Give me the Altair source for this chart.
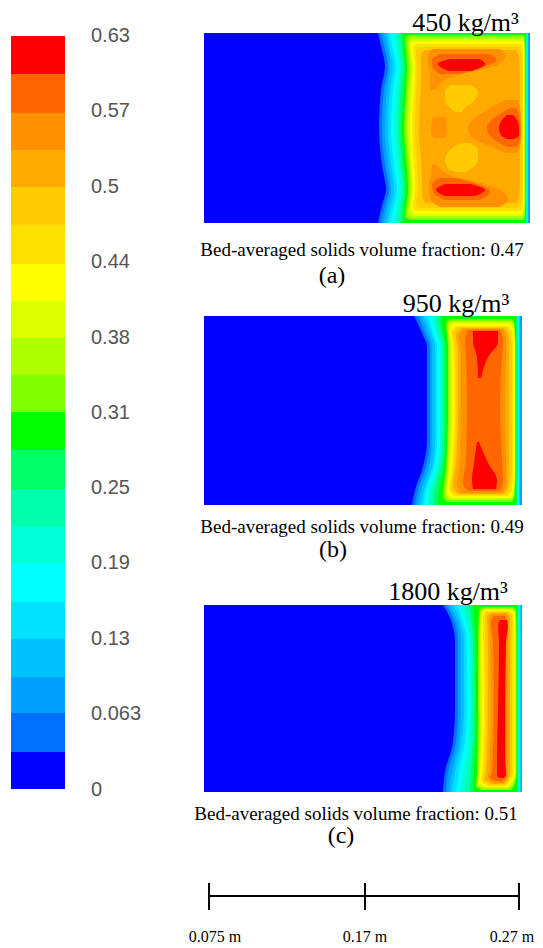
import altair as alt
import pandas as pd

# 20 contour levels of solids volume fraction
LEVEL_COLORS = ["#0000ff", "#0070ff", "#00a0ff", "#00c0ff", "#00e0ff", "#00ffff", "#00ffd5", "#00ffaa", "#00ff66", "#00ff00",
                "#80ff00", "#b0ff00", "#d9ff00", "#ffff00", "#ffe000", "#ffcc00", "#ffaa00", "#ff9000", "#ff6600", "#ff0000"]
# colour bar band edges, bottom (level 0) to top
BAR_EDGES = [789, 752, 713, 677, 639, 602, 563, 526, 489, 450, 412, 375, 338, 301, 264, 225, 187, 150, 113, 74, 36]
BAR_LABELS = ["0.63", "0.57", "0.5", "0.44", "0.38", "0.31", "0.25", "0.19", "0.13", "0.063", "0"]
BAR_LABEL_Y = [36, 111, 187, 262, 338, 413, 488, 563, 639, 714, 790]

# Panel (a)
A_Y = [33, 50, 66, 90, 128, 165, 190, 205, 223]
A = [
    (0, [33, 223], [204, 204], [530, 530]),
    (1, A_Y, [378, 382, 385, 381, 379, 382, 386, 382, 378], [530] * 9),
    (2, A_Y, [381, 385, 388, 384, 382, 385, 389, 385, 381], [530] * 9),
    (3, A_Y, [384, 388, 390, 387, 385, 388, 391, 388, 384], [528.5] * 9),
    (4, A_Y, [387, 390, 393, 390, 388, 391, 394, 391, 387], [528] * 9),
    (5, A_Y, [390, 393, 396, 393, 391, 394, 397, 394, 390], [527.5] * 9),
    (6, A_Y, [394, 396, 399, 396, 394, 397, 400, 397, 394], [527] * 9),
    (7, A_Y, [397, 399, 401, 399, 397, 400, 402, 400, 397], [526.5] * 9),
    (8, A_Y, [400, 402, 403, 401, 399, 402, 404, 402, 400], [526] * 9),
    (9, A_Y, [403, 404, 405, 404, 402, 404, 406, 404, 403], [526] * 9),
    (10, [35, 38, 66, 128, 190, 217, 220], [410, 405, 407, 404, 408, 405, 410], [524, 525, 525.5, 525.5, 525.5, 525, 524]),
    (11, [37, 41, 66, 128, 190, 214, 218], [411, 407, 409, 406, 410, 407, 412], [523.5, 524.5, 525, 525, 525, 524.5, 523]),
    (12, [39, 43, 66, 128, 190, 212, 216], [412, 409, 411, 408, 411, 409, 413], [523, 524, 524.5, 524.5, 524.5, 524, 522.5]),
    (13, [41, 45, 66, 128, 190, 210, 214], [414, 411, 413, 410, 413, 411, 415], [522, 523.5, 524, 524, 524, 523.5, 522]),
    (14, [44, 48, 66, 128, 190, 207, 211], [416, 413, 415, 412, 415, 413, 417], [521, 522.5, 523, 523, 523, 522.5, 521]),
    (15, [47, 52, 66, 128, 190, 203, 208], [418, 416, 417, 415, 418, 416, 420], [519, 521, 522, 522, 522, 521, 519]),
    (16, [50, 56, 80, 128, 180, 197, 203], [425, 421, 421, 419, 422, 422, 426], [515, 519, 520, 520, 520, 519, 515]),
    (15, [85, 92, 100, 108, 112], [450, 445, 445, 450, 455], [470, 478, 475, 465, 462]),
    (15, [143, 150, 160, 168, 172], [460, 450, 445, 448, 455], [470, 478, 478, 472, 465]),
    (17, [49, 56, 66, 72, 80, 90], [432, 428, 428, 430, 430, 431], [500, 505, 495, 470, 445, 436]),
    (17, [165, 175, 183, 190, 200, 207], [432, 431, 429, 429, 431, 440], [437, 450, 480, 500, 508, 500]),
    (17, [117, 130, 138], [433, 431, 433], [445, 447, 445]),
    (17, [100, 108, 118, 128, 138, 146, 153], [505, 490, 475, 468, 473, 490, 505], [518, 520, 521, 521, 521, 520, 516]),
    (18, [54, 60, 68, 74], [440, 432, 433, 440], [490, 497, 480, 460]),
    (18, [178, 185, 192, 200], [438, 432, 433, 445], [455, 480, 490, 480]),
    (18, [108, 115, 128, 138, 147], [510, 498, 487, 492, 508], [516, 519, 520, 520, 517]),
    (19, [59, 64, 71], [450, 438, 448], [480, 485, 472]),
    (19, [184, 190, 196], [445, 436, 445], [470, 485, 475]),
    (19, [115, 120, 128, 135, 139], [507, 502, 499, 501, 507], [513, 517, 519, 519, 514]),
]

# Panel (b)
B_Y = [316, 333, 347, 407, 440, 467, 490, 505]
B = [
    (0, [316, 505], [204, 204], [522, 522]),
    (1, B_Y, [414, 422, 427, 427, 427, 423, 415, 412], [522] * 8),
    (2, B_Y, [418, 425, 430, 430, 430, 426, 418, 415], [522] * 8),
    (3, B_Y, [421, 428, 432, 432, 432, 429, 421, 418], [520] * 8),
    (4, B_Y, [424, 431, 435, 435, 435, 432, 424, 421], [519.5] * 8),
    (5, B_Y, [428, 433, 437, 437, 437, 434, 426, 424], [519] * 8),
    (6, B_Y, [432, 436, 440, 440, 440, 437, 429, 427], [518] * 8),
    (7, B_Y, [435, 438, 442, 442, 442, 439, 432, 430], [517.5] * 8),
    (8, B_Y, [438, 441, 444, 444, 444, 441, 435, 434], [517] * 8),
    (9, B_Y, [441, 443, 446, 446, 446, 444, 439, 438], [516] * 8),
    (10, [319, 323, 347, 407, 467, 497, 502], [450, 446, 448, 448, 446, 443, 448], [512, 514.5, 515.5, 515.5, 515.5, 514.5, 512]),
    (11, [321, 325, 347, 407, 467, 495, 500], [451, 447, 449, 449, 447, 445, 449], [511.5, 514, 515, 515, 515, 514, 511]),
    (12, [322, 327, 347, 407, 467, 494, 499], [452, 448, 450, 450, 448, 446, 450], [511, 513.5, 515, 515, 515, 513.5, 510.5]),
    (13, [324, 329, 347, 407, 467, 492, 498], [454, 449, 451, 452, 450, 447, 451], [510, 513, 514.5, 514.5, 514.5, 513, 510]),
    (14, [326, 331, 347, 407, 467, 490, 496], [456, 451, 453, 454, 452, 449, 454], [508, 512, 513.5, 513.5, 513.5, 512, 508]),
    (15, [327, 333, 350, 407, 465, 488, 495], [458, 453, 455, 456, 454, 451, 457], [506, 510, 512, 512, 512, 510, 506]),
    (16, [328, 335, 352, 407, 463, 486, 494], [461, 456, 458, 458, 456, 453, 459], [504, 508, 509, 509, 509, 508, 504]),
    (17, [329, 337, 354, 407, 461, 484, 493], [464, 459, 461, 461, 460, 457, 462], [502, 506, 506, 505, 506, 506, 502]),
    (18, [330, 340, 357, 407, 460, 483, 491], [468, 465, 466, 467, 466, 463, 468], [500, 503, 502, 500, 502, 503, 499]),
    (19, [331, 342, 357, 378], [473, 473, 477, 478], [498, 498, 488, 481]),
    (19, [442, 463, 480, 489], [477, 474, 472, 473], [479, 488, 497, 496]),
]

# Panel (c)
C_Y = [605, 618, 642, 708, 742, 772, 792]
C = [
    (0, [605, 792], [204, 204], [522, 522]),
    (1, C_Y, [443, 450, 455, 455, 453, 445, 443], [522] * 7),
    (2, C_Y, [446, 453, 458, 458, 456, 448, 446], [522] * 7),
    (3, C_Y, [449, 456, 461, 461, 459, 452, 449], [521] * 7),
    (4, C_Y, [453, 459, 464, 464, 462, 455, 452], [520.5] * 7),
    (5, C_Y, [457, 462, 467, 467, 465, 459, 456], [519.5] * 7),
    (6, C_Y, [461, 465, 469, 470, 468, 463, 460], [519] * 7),
    (7, C_Y, [465, 468, 471, 472, 471, 467, 465], [518.5] * 7),
    (8, C_Y, [469, 471, 473, 474, 473, 471, 469], [518] * 7),
    (9, C_Y, [473, 474, 475, 476, 475, 474, 473], [517] * 7),
    (10, [607, 611, 642, 708, 772, 786, 790], [482, 479, 478, 478, 477, 476, 482], [513, 516, 516.5, 516.5, 516.5, 514, 510]),
    (11, [608, 612, 642, 708, 772, 785, 789], [483, 480, 479, 479, 478, 477, 483], [512, 515.5, 516, 516, 516, 513, 509]),
    (12, [609, 613, 642, 708, 772, 784, 788], [484, 481, 480, 480, 479, 478, 484], [511, 515, 515.5, 515.5, 515.5, 512, 508]),
    (13, [610, 614, 642, 708, 772, 782, 787], [485, 482, 481, 482, 480, 479, 486], [510, 514.5, 515, 515, 515, 511, 507]),
    (14, [611, 615, 642, 708, 772, 781, 786], [486, 483, 483, 484, 482, 481, 488], [509, 513, 514, 514, 514, 510, 506]),
    (15, [612, 616, 642, 708, 772, 780, 785], [488, 485, 485, 486, 484, 483, 490], [508, 512, 512, 512, 512, 509, 505]),
    (16, [613, 618, 642, 708, 772, 779, 784], [490, 487, 488, 488, 486, 485, 492], [507, 510, 510, 510, 510, 508, 504]),
    (17, [614, 620, 642, 708, 772, 778, 783], [492, 489, 490, 491, 489, 488, 494], [506, 508, 508, 508, 508, 507, 503]),
    (18, [616, 622, 642, 708, 772, 777, 781], [494, 491, 493, 494, 492, 490, 496], [505, 506, 506, 506, 506, 505, 502]),
    (19, [620, 626, 642, 708, 760, 775, 778], [500, 498, 499, 498, 497, 497, 499], [507, 508, 506, 505, 505, 506, 504]),
]

TITLES = ["450 kg/m³", "950 kg/m³", "1800 kg/m³"]
TITLE_X = [465.5, 456, 448]
TITLE_Y = [23, 304, 592]
CAPTIONS = ["Bed-averaged solids volume fraction: 0.47", "Bed-averaged solids volume fraction: 0.49", "Bed-averaged solids volume fraction: 0.51"]
CAPTION_X = [362, 362, 356]
CAPTION_Y = [250, 527, 814]
TAGS = ["(a)", "(b)", "(c)"]
TAG_X = [332, 333, 341]
TAG_Y = [276, 550, 836]

SCALE_TICKS = [209, 365, 519]
SCALE_LABELS = ["0.075 m", "0.17 m", "0.27 m"]
SCALE_LABEL_X = [215, 365, 512]
SCALE_BAR_Y = 896
SCALE_TICK_TOP = 883
SCALE_TICK_BOTTOM = 910
SCALE_LABEL_Y = 937

rows = []
cid = 0
for panel in (A, B, C):
    for level, ys, lefts, rights in panel:
        cid += 1
        for y, l, r in zip(ys, lefts, rights):
            rows.append({"contour": f"c{cid:03d}", "level": level, "y": y, "xl": l, "xr": r})
contours = pd.DataFrame(rows)

xs = alt.Scale(domain=[8, 535], nice=False, zero=False)
ys_ = alt.Scale(domain=[946, 8], nice=False, zero=False)
colors = alt.Scale(domain=list(range(20)), range=LEVEL_COLORS)


def X(f):
    return alt.X(f, type="quantitative", scale=xs, axis=None, stack=None)


def Y(f):
    return alt.Y(f, type="quantitative", scale=ys_, axis=None)


fields = alt.Chart(contours).mark_area(orient="horizontal", interpolate="monotone", strokeWidth=0).encode(
    y=Y("y"), x=X("xl"), x2="xr:Q",
    color=alt.Color("level:O", scale=colors, legend=None), detail="contour:N",
)

bar = pd.DataFrame({
    "level": list(range(20)), "y0": BAR_EDGES[:-1], "y1": BAR_EDGES[1:], "x0": [11] * 20, "x1": [65] * 20,
})
bar_marks = alt.Chart(bar).mark_rect(strokeWidth=0).encode(
    x=X("x0"), x2="x1:Q", y=Y("y0"), y2="y1:Q",
    color=alt.Color("level:O", scale=colors, legend=None),
)
bar_text = alt.Chart(pd.DataFrame({"t": BAR_LABELS, "y": BAR_LABEL_Y, "x": [91] * 11})).mark_text(
    align="left", baseline="middle", font="Liberation Sans", fontSize=20, color="#555555"
).encode(x=X("x"), y=Y("y"), text="t:N")


def serif(texts, tx, ty, size):
    df = pd.DataFrame({"t": texts, "x": tx, "y": ty})
    return alt.Chart(df).mark_text(
        align="center", baseline="middle", font="Liberation Serif", fontSize=size, color="#000000"
    ).encode(x=X("x"), y=Y("y"), text="t:N")


titles = serif(TITLES, TITLE_X, TITLE_Y, 26)
captions = serif(CAPTIONS, CAPTION_X, CAPTION_Y, 19)
tags = serif(TAGS, TAG_X, TAG_Y, 24)
scale_text = serif(SCALE_LABELS, SCALE_LABEL_X, [SCALE_LABEL_Y] * 3, 16)

scale_h = alt.Chart(pd.DataFrame({"x0": [SCALE_TICKS[0]], "x1": [SCALE_TICKS[-1]], "y": [SCALE_BAR_Y]})).mark_rule(
    color="#000000", strokeWidth=2
).encode(x=X("x0"), x2="x1:Q", y=Y("y"))
scale_v = alt.Chart(pd.DataFrame({"x": SCALE_TICKS, "y0": [SCALE_TICK_TOP] * 3, "y1": [SCALE_TICK_BOTTOM] * 3})).mark_rule(
    color="#000000", strokeWidth=2
).encode(x=X("x"), y=Y("y0"), y2="y1:Q")

chart = alt.layer(bar_marks, bar_text, fields, titles, captions, tags, scale_h, scale_v, scale_text).properties(
    width=527, height=938, padding=0, autosize=alt.AutoSizeParams(type="none"), background="#ffffff"
).configure_view(stroke=None)

chart.save("out.html", embed_options={"renderer": "svg", "actions": False})
